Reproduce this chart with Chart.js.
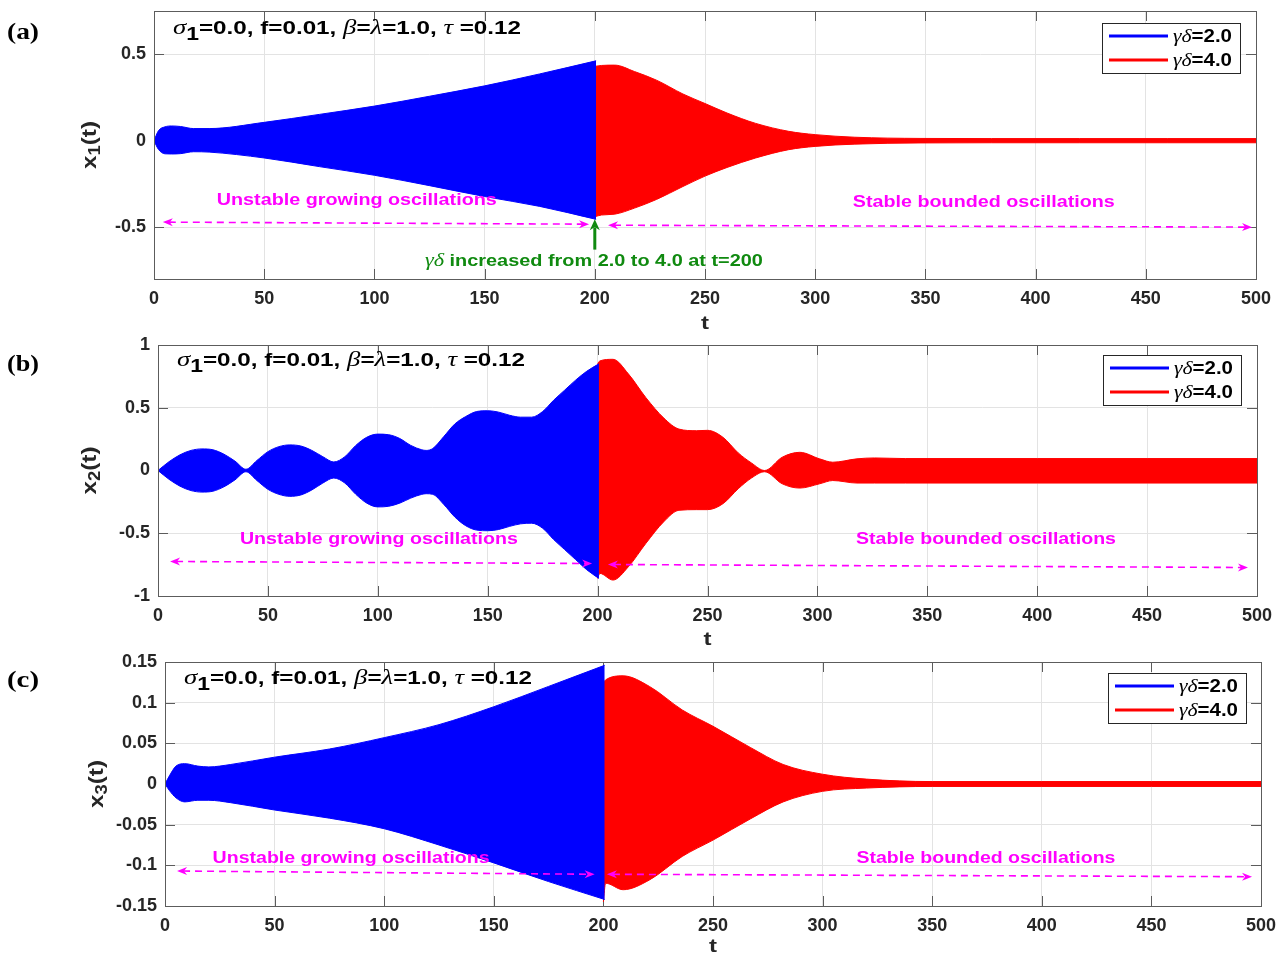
<!DOCTYPE html>
<html>
<head>
<meta charset="utf-8">
<script src="https://cdn.jsdelivr.net/npm/chart.js@4.4.1/dist/chart.umd.min.js"></script>
<style>
  html, body { margin: 0; padding: 0; background: #ffffff; }
  #fig { position: relative; width: 1284px; height: 956px; overflow: hidden; }
  #fig canvas { position: absolute; left: 0; }
</style>
</head>
<body>
<div id="fig">
  <canvas id="cA" width="1284" height="335" style="top:0px"></canvas>
  <canvas id="cB" width="1284" height="315" style="top:335px"></canvas>
  <canvas id="cC" width="1284" height="306" style="top:650px"></canvas>
</div>
<script>
// ---------- time axis ----------
const T_TICKS = [0, 50, 100, 150, 200, 250, 300, 350, 400, 450, 500];
const gammaDelta = [2.0, 4.0];

// ---------- (a) x1(t): envelope of the response ----------
const tA_blue = [0, 2, 5, 8, 12, 18, 25, 50, 75, 100, 125, 150, 175, 200.6];
const x1_blue_upper = [0, 0.057, 0.08, 0.085, 0.082, 0.07, 0.07, 0.106, 0.152, 0.2, 0.257, 0.317, 0.386, 0.462];
const x1_blue_lower = [0, -0.05, -0.076, -0.077, -0.075, -0.064, -0.066, -0.1, -0.15, -0.2, -0.26, -0.323, -0.38, -0.455];
const tA_red = [200, 203, 209, 218, 228, 240, 250, 260, 273, 288, 300, 318, 348, 380, 420, 460, 500];
const x1_red_upper = [0.43, 0.435, 0.437, 0.4, 0.35, 0.27, 0.215, 0.16, 0.1, 0.054, 0.035, 0.02, 0.013, 0.012, 0.012, 0.012, 0.012];
const x1_red_lower = [-0.44, -0.43, -0.425, -0.39, -0.34, -0.265, -0.205, -0.155, -0.1, -0.052, -0.033, -0.02, -0.013, -0.012, -0.012, -0.012, -0.012];
const x1_ticks = [-0.5, 0, 0.5];

// ---------- (b) x2(t) ----------
const tB_blue = [0, 5, 10, 15, 20, 25, 30, 35, 40, 45, 50, 55, 60, 65, 70, 75, 80, 85, 90, 95, 100, 105, 110, 115, 120, 122, 125, 130, 135, 140, 145, 150, 155, 160, 165, 170, 175, 180, 185, 190, 195, 200.6];
const x2_blue_upper = [0, 0.07, 0.125, 0.16, 0.172, 0.165, 0.13, 0.075, 0.01, 0.08, 0.15, 0.19, 0.204, 0.195, 0.16, 0.11, 0.068, 0.11, 0.2, 0.265, 0.29, 0.285, 0.255, 0.2, 0.165, 0.16, 0.175, 0.27, 0.37, 0.43, 0.47, 0.476, 0.465, 0.44, 0.425, 0.425, 0.47, 0.56, 0.64, 0.72, 0.79, 0.85];
const x2_blue_lower = [0, -0.07, -0.125, -0.16, -0.172, -0.165, -0.13, -0.075, -0.01, -0.08, -0.15, -0.19, -0.206, -0.195, -0.155, -0.1, -0.06, -0.1, -0.19, -0.26, -0.29, -0.285, -0.26, -0.22, -0.19, -0.185, -0.19, -0.27, -0.37, -0.44, -0.475, -0.48, -0.47, -0.445, -0.425, -0.42, -0.46, -0.55, -0.63, -0.71, -0.79, -0.86];
const tB_red = [200, 201, 207, 214, 222, 230, 237, 245, 250, 257, 264, 270, 276, 284, 292, 301, 307, 318, 326, 340, 400, 450, 500];
const x2_red_upper = [0.85, 0.873, 0.886, 0.77, 0.58, 0.42, 0.33, 0.317, 0.32, 0.265, 0.14, 0.06, 0.0, 0.106, 0.145, 0.093, 0.066, 0.093, 0.1, 0.095, 0.095, 0.095, 0.095];
const x2_red_lower = [-0.86, -0.82, -0.873, -0.767, -0.58, -0.41, -0.317, -0.312, -0.312, -0.265, -0.145, -0.06, -0.01, -0.106, -0.14, -0.106, -0.08, -0.1, -0.1, -0.1, -0.1, -0.1, -0.1];
const x2_ticks = [-1, -0.5, 0, 0.5, 1];

// ---------- (c) x3(t) ----------
const tC_blue = [0, 2, 5, 9, 15, 20, 30, 50, 75, 100, 125, 150, 175, 200.6];
const x3_blue_upper = [0, 0.01, 0.022, 0.025, 0.022, 0.021, 0.024, 0.033, 0.043, 0.057, 0.073, 0.095, 0.12, 0.146];
const x3_blue_lower = [0, -0.008, -0.017, -0.022, -0.02, -0.02, -0.023, -0.032, -0.042, -0.055, -0.075, -0.097, -0.12, -0.142];
const tC_red = [200, 201, 209, 221, 236, 250, 267, 282, 300, 320, 350, 400, 450, 500];
const x3_red_upper = [0.125, 0.128, 0.133, 0.12, 0.091, 0.071, 0.045, 0.024, 0.012, 0.006, 0.003, 0.003, 0.003, 0.003];
const x3_red_lower = [-0.145, -0.122, -0.13, -0.118, -0.089, -0.069, -0.043, -0.022, -0.009, -0.005, -0.003, -0.003, -0.003, -0.003];
const x3_ticks = [-0.15, -0.1, -0.05, 0, 0.05, 0.1, 0.15];

// ---------- styling ----------
const SANS = '"Liberation Sans", Arial, Helvetica, sans-serif';
const SERIF = '"Liberation Serif", "Times New Roman", serif';
const AXIS = '#5c5c5c';
const TXT = '#262626';
const BLUE = '#0000ff';
const RED = '#ff0000';
const MAGENTA = '#ff00ff';
const GREEN = '#108a10';
const TICK_LEN = 10;

function pts(t, v) { return t.map((ti, i) => ({ x: ti, y: v[i] })); }

// draw a row of text runs (mixed fonts); width = optional fitted width
function runs(ctx, parts, x, y, align, width) {
  let w = 0;
  parts.forEach(p => { ctx.font = p.f; w += ctx.measureText(p.t).width; });
  const sx = width ? width / w : 1;
  const start = align === 'center' ? x - (w * sx) / 2 : x;
  ctx.save();
  ctx.translate(start, y);
  ctx.scale(sx, 1);
  let cx = 0;
  parts.forEach(p => {
    ctx.font = p.f;
    if (p.c) ctx.fillStyle = p.c;
    ctx.fillText(p.t, cx, p.dy || 0);
    cx += ctx.measureText(p.t).width;
  });
  ctx.restore();
  return w * sx;
}

function arrowHead(ctx, tx, ty, ang, len, half) {
  const c = Math.cos(ang), s = Math.sin(ang);
  const bx = tx - c * len, by = ty - s * len;
  const nx = tx - c * len * 0.7, ny = ty - s * len * 0.7;
  ctx.beginPath();
  ctx.moveTo(tx, ty);
  ctx.lineTo(bx - s * half, by + c * half);
  ctx.lineTo(nx, ny);
  ctx.lineTo(bx + s * half, by - c * half);
  ctx.closePath();
  ctx.fill();
}

function dashedDoubleArrow(ctx, x1, y1, x2, y2) {
  const ang = Math.atan2(y2 - y1, x2 - x1);
  ctx.save();
  ctx.strokeStyle = MAGENTA; ctx.fillStyle = MAGENTA; ctx.lineWidth = 1.6;
  ctx.setLineDash([7, 5]);
  ctx.beginPath();
  ctx.moveTo(x1 + Math.cos(ang) * 6, y1 + Math.sin(ang) * 6);
  ctx.lineTo(x2 - Math.cos(ang) * 6, y2 - Math.sin(ang) * 6);
  ctx.stroke();
  ctx.setLineDash([]);
  arrowHead(ctx, x2, y2, ang, 10, 4);
  arrowHead(ctx, x1, y1, ang + Math.PI, 10, 4);
  ctx.restore();
}

function paramRuns(size) {
  const b = 'bold ' + size + 'px ' + SANS;
  const g = 'italic ' + (size + 2) + 'px ' + SERIF;
  return [
    { t: 'σ', f: g }, { t: '1', f: 'bold ' + (size - 1) + 'px ' + SANS, dy: 6 },
    { t: '=0.0, f=0.01, ', f: b }, { t: 'β', f: g }, { t: '=', f: b },
    { t: 'λ', f: g }, { t: '=1.0, ', f: b }, { t: 'τ', f: g }, { t: ' =0.12', f: b }
  ];
}

function makeDeco(cfg) {
  return {
    id: 'deco' + cfg.tag,
    beforeDatasetsDraw(chart) {
      const { ctx, chartArea: a, scales: { x, y } } = chart;
      ctx.save();
      ctx.strokeStyle = AXIS; ctx.lineWidth = 1;
      ctx.beginPath();
      x.ticks.forEach(tk => {
        const px = Math.round(x.getPixelForValue(tk.value)) + 0.5;
        ctx.moveTo(px, a.bottom); ctx.lineTo(px, a.bottom - TICK_LEN);
        ctx.moveTo(px, a.top); ctx.lineTo(px, a.top + TICK_LEN);
      });
      y.ticks.forEach(tk => {
        const py = Math.round(y.getPixelForValue(tk.value)) + 0.5;
        ctx.moveTo(a.left, py); ctx.lineTo(a.left + TICK_LEN, py);
        ctx.moveTo(a.right, py); ctx.lineTo(a.right - TICK_LEN, py);
      });
      ctx.stroke();
      ctx.restore();
    },
    afterDatasetsDraw(chart) {
      const { ctx, chartArea: a, scales: { x, y } } = chart;
      ctx.save();
      // axes box
      ctx.strokeStyle = AXIS; ctx.lineWidth = 1;
      ctx.strokeRect(Math.round(a.left) + 0.5, Math.round(a.top) + 0.5,
                     Math.round(a.right - a.left), Math.round(a.bottom - a.top));

      // parameter line
      ctx.textBaseline = 'alphabetic'; ctx.textAlign = 'left'; ctx.fillStyle = '#000';
      runs(ctx, paramRuns(19), a.left + 19, a.top + cfg.paramDy, 'left', 348);

      // region labels and arrows
      ctx.textBaseline = 'middle';
      cfg.notes.forEach(n => {
        runs(ctx, [{ t: n.text, f: 'bold 17px ' + SANS, c: MAGENTA }],
             x.getPixelForValue(n.t), y.getPixelForValue(n.v), 'center', n.w);
      });
      cfg.arrows.forEach(r => {
        dashedDoubleArrow(ctx, x.getPixelForValue(r[0]), y.getPixelForValue(r[1]),
                               x.getPixelForValue(r[2]), y.getPixelForValue(r[3]));
      });
      if (cfg.switchNote) {
        const s = cfg.switchNote;
        const px = x.getPixelForValue(s.t);
        const yTail = y.getPixelForValue(s.tail), yHead = y.getPixelForValue(s.head);
        ctx.strokeStyle = GREEN; ctx.fillStyle = GREEN; ctx.lineWidth = 3;
        ctx.beginPath(); ctx.moveTo(px, yTail); ctx.lineTo(px, yHead + 8); ctx.stroke();
        arrowHead(ctx, px, yHead, -Math.PI / 2, 11, 5);
        runs(ctx, [{ t: 'γδ', f: 'italic 19px ' + SERIF, c: GREEN },
                   { t: ' increased from 2.0 to 4.0 at t=200', f: 'bold 17px ' + SANS, c: GREEN }],
             x.getPixelForValue(s.textT), y.getPixelForValue(s.textV), 'center', 338);
      }

      // legend
      const bw = 138, bh = 50;
      const bx = Math.round(a.right - cfg.legRight - bw), by = Math.round(a.top + cfg.legTop);
      ctx.fillStyle = '#fff'; ctx.fillRect(bx, by, bw, bh);
      ctx.strokeStyle = TXT; ctx.lineWidth = 1; ctx.strokeRect(bx + 0.5, by + 0.5, bw, bh);
      [BLUE, RED].forEach((col, i) => {
        const ly = by + 13 + i * 24;
        ctx.strokeStyle = col; ctx.lineWidth = 3;
        ctx.beginPath(); ctx.moveTo(bx + 7, ly); ctx.lineTo(bx + 66, ly); ctx.stroke();
        runs(ctx, [{ t: 'γδ', f: 'italic 19px ' + SERIF, c: '#000' },
                   { t: '=' + gammaDelta[i].toFixed(1), f: 'bold 18px ' + SANS, c: '#000' }],
             bx + 71, ly + 1, 'left', 59);
      });

      // axis titles
      ctx.textBaseline = 'middle';
      runs(ctx, [{ t: 't', f: 'bold 19px ' + SANS, c: TXT }], (a.left + a.right) / 2, a.bottom + cfg.tDy, 'center', 8);
      ctx.save();
      ctx.translate(a.left - cfg.yLabDx, (a.top + a.bottom) / 2);
      ctx.rotate(-Math.PI / 2);
      runs(ctx, [{ t: 'x', f: 'bold 21px ' + SANS, c: TXT },
                 { t: cfg.sub, f: 'bold 16px ' + SANS, dy: 6, c: TXT },
                 { t: '(t)', f: 'bold 21px ' + SANS, c: TXT }], 0, 0, 'center', 48);
      ctx.restore();

      // panel letter
      ctx.textBaseline = 'alphabetic';
      runs(ctx, [{ t: cfg.letter, f: 'bold 24px ' + SERIF, c: '#000' }], 7, cfg.letterY, 'left', 32);
      ctx.restore();
    }
  };
}

function makeChart(id, cfg) {
  const area = (color, t, up, lo) => ([
    { data: pts(t, up), borderColor: color, backgroundColor: color, borderWidth: 1,
      pointRadius: 0, fill: '+1', cubicInterpolationMode: 'monotone' },
    { data: pts(t, lo), borderColor: color, backgroundColor: color, borderWidth: 1,
      pointRadius: 0, fill: false, cubicInterpolationMode: 'monotone' }
  ]);
  return new Chart(document.getElementById(id), {
    type: 'line',
    data: { datasets: [...area(BLUE, cfg.tb, cfg.bu, cfg.bl), ...area(RED, cfg.tr, cfg.ru, cfg.rl)] },
    options: {
      responsive: false, animation: false, events: [],
      layout: { padding: cfg.pad },
      plugins: { legend: { display: false }, tooltip: { enabled: false } },
      scales: {
        x: {
          type: 'linear', min: 0, max: 500,
          afterBuildTicks: s => { s.ticks = T_TICKS.map(v => ({ value: v })); },
          afterFit: s => { s.height = 30; s.paddingLeft = 0; s.paddingRight = 0; },
          ticks: { color: TXT, padding: 9, font: { family: SANS, size: 18, weight: 'bold' }, maxRotation: 0,
                   callback: v => String(v) },
          grid: { color: '#e3e3e3', lineWidth: 1, drawTicks: false },
          border: { display: false }
        },
        y: {
          type: 'linear', min: cfg.ymin, max: cfg.ymax,
          afterBuildTicks: s => { s.ticks = cfg.yt.map(v => ({ value: v })); },
          afterFit: s => { s.width = cfg.yw; s.paddingTop = 0; s.paddingBottom = 0; },
          ticks: { color: TXT, padding: 8, font: { family: SANS, size: 18, weight: 'bold' },
                   callback: v => String(v) },
          grid: { color: '#e3e3e3', lineWidth: 1, drawTicks: false },
          border: { display: false }
        }
      }
    },
    plugins: [makeDeco(cfg)]
  });
}

makeChart('cA', {
  tag: 'A', letter: '(a)', letterY: 39, sub: '1', paramDy: 23, tDy: 45, yLabDx: 64,
  legRight: 16, legTop: 12,
  tb: tA_blue, bu: x1_blue_upper, bl: x1_blue_lower,
  tr: tA_red, ru: x1_red_upper, rl: x1_red_lower,
  ymin: -0.8, ymax: 0.75, yt: x1_ticks, yw: 154,
  pad: { left: 0, top: 11, right: 28, bottom: 26 },
  notes: [{ text: 'Unstable growing oscillations', t: 92, v: -0.345, w: 280 },
          { text: 'Stable bounded oscillations', t: 376.5, v: -0.356, w: 262 }],
  arrows: [[4, -0.471, 197.4, -0.483], [206, -0.489, 498.2, -0.5]],
  switchNote: { t: 200, tail: -0.63, head: -0.455, textT: 199.6, textV: -0.695 }
});

makeChart('cB', {
  tag: 'B', letter: '(b)', letterY: 36, sub: '2', paramDy: 21, tDy: 44, yLabDx: 68,
  legRight: 16, legTop: 10,
  tb: tB_blue, bu: x2_blue_upper, bl: x2_blue_lower,
  tr: tB_red, ru: x2_red_upper, rl: x2_red_lower,
  ymin: -1, ymax: 1, yt: x2_ticks, yw: 158,
  pad: { left: 0, top: 10, right: 27, bottom: 24 },
  notes: [{ text: 'Unstable growing oscillations', t: 100.5, v: -0.55, w: 278 },
          { text: 'Stable bounded oscillations', t: 376.7, v: -0.55, w: 260 }],
  arrows: [[5.5, -0.725, 197.5, -0.741], [204.7, -0.749, 495.9, -0.773]],
  switchNote: null
});

makeChart('cC', {
  tag: 'C', letter: '(c)', letterY: 37, sub: '3', paramDy: 22, tDy: 41, yLabDx: 68,
  legRight: 15, legTop: 11,
  tb: tC_blue, bu: x3_blue_upper, bl: x3_blue_lower,
  tr: tC_red, ru: x3_red_upper, rl: x3_red_lower,
  ymin: -0.15, ymax: 0.15, yt: x3_ticks, yw: 165,
  pad: { left: 0, top: 12, right: 23, bottom: 20 },
  notes: [{ text: 'Unstable growing oscillations', t: 84.9, v: -0.091, w: 277 },
          { text: 'Stable bounded oscillations', t: 374.5, v: -0.091, w: 259 }],
  arrows: [[5.5, -0.107, 196, -0.111], [201.6, -0.111, 495.9, -0.114]],
  switchNote: null
});
</script>
</body>
</html>
